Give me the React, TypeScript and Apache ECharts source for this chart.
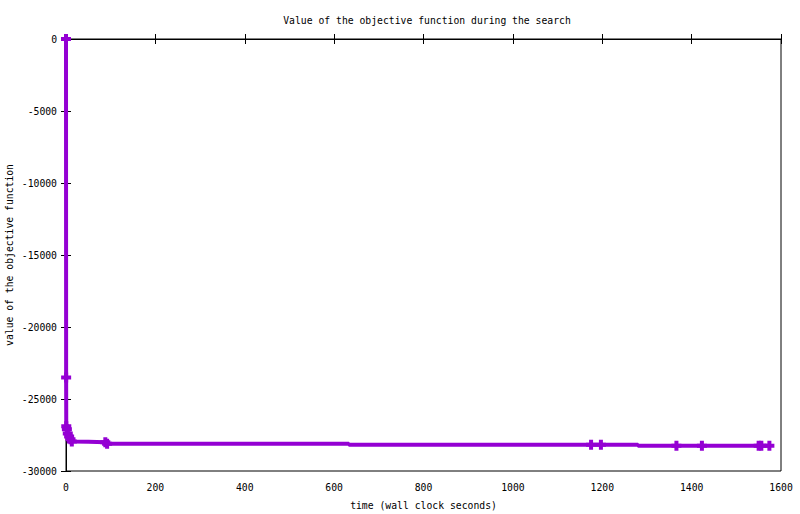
import React, { useEffect, useRef } from "react";
import * as echarts from "echarts";

const TITLE = "Value of the objective function during the search";
const X_NAME = "time (wall clock seconds)";
const Y_NAME = "value of the objective function";

// line vertices (seconds, objective value)
const lineTimes = [0, 0.3, 0.6, 2, 4, 7, 10, 13, 50, 88, 92, 633, 633, 1175, 1197, 1280, 1280, 1366, 1423, 1550, 1556, 1574];
const lineValues = [0, -23500, -26900, -27100, -27400, -27600, -27800, -27950, -27970, -28000, -28100, -28100, -28175, -28175, -28175, -28175, -28240, -28240, -28240, -28240, -28240, -28240];

// points where a "+" marker is drawn
const markerTimes = [0, 0.3, 0.6, 2, 4, 7, 10, 13, 88, 92, 1175, 1197, 1366, 1423, 1550, 1556, 1574];
const markerValues = [0, -23500, -26900, -27100, -27400, -27600, -27800, -27950, -28000, -28100, -28175, -28175, -28240, -28240, -28240, -28240, -28240];

const X_MIN = 0;
const X_MAX = 1600;
const X_STEP = 200;
const Y_MIN = -30000;
const Y_MAX = 0;
const Y_STEP = 5000;

const COLOR = "#9400D3";
const FONT = "DejaVu Sans Mono";
const PLUS = "path://M3,0H7V3H10V7H7V10H3V7H0V3H3Z";

export default function App() {
  const ref = useRef<HTMLDivElement>(null);
  useEffect(() => {
    if (!ref.current) return;
    const chart = echarts.init(ref.current, null, { renderer: "svg" });
    const lineData = lineTimes.map((t, i) => [t, lineValues[i]]);
    const markerData = markerTimes.map((t, i) => [t, markerValues[i]]);
    const axisText = { color: "#000", fontFamily: FONT, fontSize: 9.75 };
    const tickIn = { show: true, inside: true, length: 5, lineStyle: { color: "#000", width: 1 } };
    const plain = (v: number) => String(v);
    chart.setOption({
      animation: false,
      backgroundColor: "#fff",
      title: {
        text: TITLE,
        left: 422,
        top: 10,
        textAlign: "center",
        textStyle: { ...axisText, fontWeight: "normal" },
      },
      grid: {
        left: 66,
        right: 19,
        top: 39,
        bottom: 43,
        show: true,
        borderColor: "#000",
        borderWidth: 1,
        containLabel: false,
        outerBoundsMode: "none",
      },
      xAxis: [
        {
          type: "value",
          min: X_MIN,
          max: X_MAX,
          interval: X_STEP,
          name: X_NAME,
          nameLocation: "middle",
          nameGap: 29,
          nameMoveOverlap: false,
          nameTextStyle: axisText,
          axisLine: { show: true, lineStyle: { color: "#000", width: 1 } },
          axisTick: tickIn,
          axisLabel: { ...axisText, margin: 11, formatter: plain },
          splitLine: { show: false },
        },
        {
          type: "value",
          position: "top",
          min: X_MIN,
          max: X_MAX,
          interval: X_STEP,
          axisLine: { show: true, lineStyle: { color: "#000", width: 1 } },
          axisTick: tickIn,
          axisLabel: { show: false },
          splitLine: { show: false },
        },
      ],
      yAxis: [
        {
          type: "value",
          min: Y_MIN,
          max: Y_MAX,
          interval: Y_STEP,
          name: Y_NAME,
          nameLocation: "middle",
          nameGap: 52,
          nameMoveOverlap: false,
          nameRotate: 90,
          nameTextStyle: axisText,
          axisLine: { show: true, lineStyle: { color: "#000", width: 1 } },
          axisTick: tickIn,
          axisLabel: { ...axisText, margin: 9, formatter: plain },
          splitLine: { show: false },
        },
        {
          type: "value",
          position: "right",
          min: Y_MIN,
          max: Y_MAX,
          interval: Y_STEP,
          axisLine: { show: true, lineStyle: { color: "#000", width: 1 } },
          axisTick: tickIn,
          axisLabel: { show: false },
          splitLine: { show: false },
        },
      ],
      series: [
        {
          type: "line",
          data: lineData,
          symbol: "none",
          clip: false,
          lineStyle: { color: COLOR, width: 4 },
          itemStyle: { color: COLOR },
        },
        {
          type: "scatter",
          data: markerData,
          symbol: PLUS,
          symbolSize: 10,
          clip: false,
          itemStyle: { color: COLOR, opacity: 1 },
        },
      ],
    });
    return () => chart.dispose();
  }, []);
  return (
    <div
      ref={ref}
      style={{ position: "absolute", left: 0, top: 0, width: 800, height: 514, background: "#fff" }}
    />
  );
}
